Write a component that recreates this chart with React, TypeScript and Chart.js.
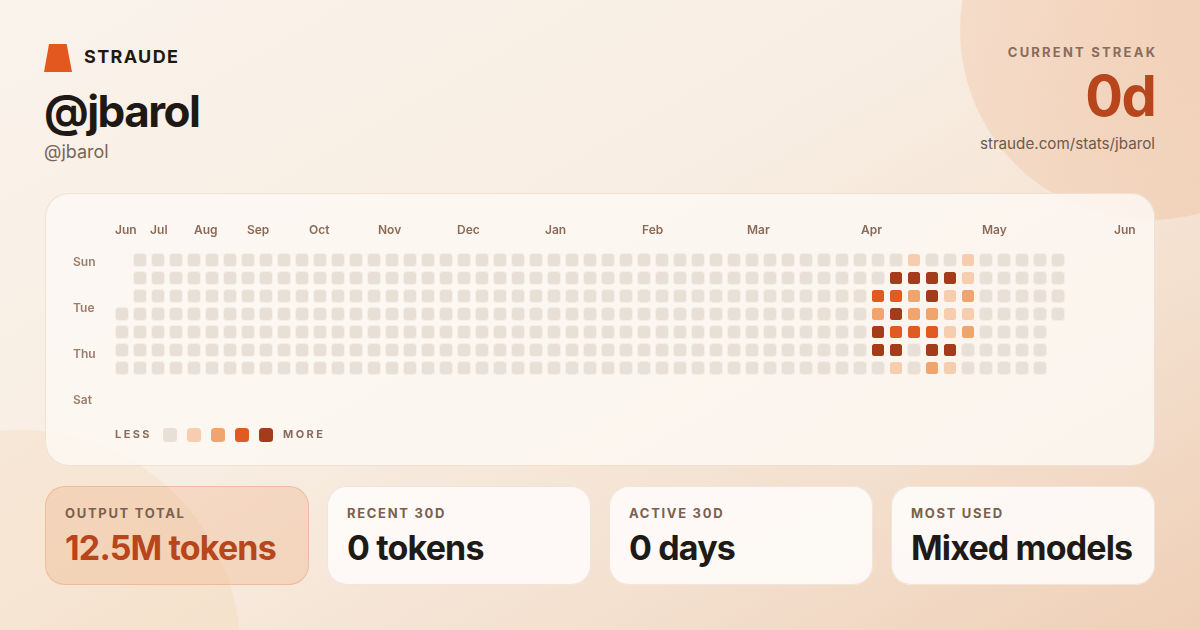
import React, { useEffect, useRef } from "react";
import { Chart, registerables } from "chart.js";

Chart.register(...registerables);

// ---------- data ----------
const weekCount = 53;
const firstWeekStartDay = 3; // first column begins on Wed
const lastWeekEndDay = 3; // last column ends on Wed
const activeWeekStart = 42;
// levels per active week, rows Sun..Sat
const activeWeekLevels = [
  [0, 0, 3, 2, 4, 4, 0],
  [0, 4, 3, 4, 3, 4, 1],
  [1, 4, 2, 2, 3, 0, 0],
  [0, 4, 4, 2, 3, 4, 2],
  [0, 4, 1, 1, 1, 4, 1],
  [1, 1, 2, 1, 2, 0, 0],
];
const monthLabels = ["Jun", "Jul", "Aug", "Sep", "Oct", "Nov", "Dec", "Jan", "Feb", "Mar", "Apr", "May", "Jun"];
const monthTickWeeks = [-0.39, 1.56, 4.0, 6.94, 10.39, 14.22, 18.61, 23.5, 28.89, 34.72, 41.06, 47.78, 55.11];
const dayLabels = ["Sun", "Mon", "Tue", "Wed", "Thu", "Fri", "Sat"];
const dayTickRows = [0, 2, 4, 6];

const statLabels = ["OUTPUT TOTAL", "RECENT 30D", "ACTIVE 30D", "MOST USED"];
const statValues = ["12.5M tokens", "0 tokens", "0 days", "Mixed models"];

// ---------- styles ----------
const levelColors = ["#E8E0D6", "#F6CDAF", "#F0A56E", "#E05A22", "#A43B1A"];
const CANVAS_W = 1110;
const CANVAS_H = 273;
const PAD_LEFT = 28;
const DAY_AXIS_W = 40;
const PAD_RIGHT = 16;
const TOP_AXIS_H = 58;
const PAD_BOTTOM = 56;
const CELL_STEP = 18;
const DAY_LABEL_STEP = 23;

function buildCells() {
  const cells: { x: number; y: [number, number]; level: number }[] = [];
  for (let w = 0; w < weekCount; w++) {
    const start = w === 0 ? firstWeekStartDay : 0;
    const end = w === weekCount - 1 ? lastWeekEndDay : 6;
    for (let d = start; d <= end; d++) {
      const ai = w - activeWeekStart;
      const level = ai >= 0 && ai < activeWeekLevels.length ? activeWeekLevels[ai][d] : 0;
      cells.push({ x: w, y: [d - 0.39, d + 0.39], level });
    }
  }
  return cells;
}

export default function App() {
  const canvasRef = useRef<HTMLCanvasElement>(null);

  useEffect(() => {
    const cells = buildCells();
    const areaH = CANVAS_H - TOP_AXIS_H - PAD_BOTTOM;
    const areaW = CANVAS_W - PAD_LEFT - DAY_AXIS_W - PAD_RIGHT;
    const dayMin = -11.8 / DAY_LABEL_STEP;
    const chart = new Chart(canvasRef.current as HTMLCanvasElement, {
      type: "bar",
      data: {
        datasets: [
          {
            data: cells as any,
            backgroundColor: cells.map((c) => levelColors[c.level]),
            borderColor: cells.map((c) => (c.level === 0 ? "rgba(150,110,80,0.06)" : "rgba(0,0,0,0)")),
            borderWidth: 1,
            borderRadius: 3.5,
            borderSkipped: false,
            barThickness: 14,
            inflateAmount: 0,
            xAxisID: "x",
            yAxisID: "y",
          } as any,
        ],
      },
      options: {
        animation: false,
        responsive: false,
        events: [],
        layout: { padding: { left: PAD_LEFT, right: PAD_RIGHT, top: 0, bottom: PAD_BOTTOM } },
        plugins: { legend: { display: false }, tooltip: { enabled: false } },
        scales: {
          x: {
            type: "linear",
            position: "top",
            min: -0.5,
            max: -0.5 + areaW / CELL_STEP,
            offset: false,
            grid: { display: false, drawTicks: false },
            border: { display: false },
            afterBuildTicks: (s: any) => {
              s.ticks = monthTickWeeks.map((v) => ({ value: v }));
            },
            afterFit: (s: any) => {
              s.height = TOP_AXIS_H;
            },
            ticks: {
              autoSkip: false,
              maxRotation: 0,
              minRotation: 0,
              align: "start",
              padding: 13,
              color: "#8B6B58",
              font: { family: "Inter", size: 12, weight: "600" },
              callback: (_v: any, i: number) => monthLabels[i],
            },
          } as any,
          y: {
            type: "linear",
            axis: "y",
            reverse: true,
            min: -0.5,
            max: -0.5 + areaH / CELL_STEP,
            display: false,
          } as any,
          yDays: {
            type: "linear",
            axis: "y",
            position: "left",
            reverse: true,
            min: dayMin,
            max: dayMin + areaH / DAY_LABEL_STEP,
            grid: { display: false, drawTicks: false },
            border: { display: false },
            afterBuildTicks: (s: any) => {
              s.ticks = dayTickRows.map((v) => ({ value: v }));
            },
            afterFit: (s: any) => {
              s.width = DAY_AXIS_W;
            },
            ticks: {
              autoSkip: false,
              crossAlign: "far",
              padding: 0,
              color: "#9A7E6C",
              font: { family: "Inter", size: 12, weight: "600" },
              callback: (v: any) => dayLabels[Math.round(Number(v))],
            },
          } as any,
        },
      },
    });
    return () => chart.destroy();
  }, []);

  const txt = (extra: React.CSSProperties): React.CSSProperties => ({
    position: "absolute",
    lineHeight: 1,
    whiteSpace: "nowrap",
    margin: 0,
    ...extra,
  });

  return (
    <div
      style={{
        position: "fixed",
        left: 0,
        top: 0,
        width: 1200,
        height: 630,
        overflow: "hidden",
        fontFamily: "Inter, 'Noto Sans', sans-serif",
        background: "linear-gradient(150deg, #FAF3EB 0%, #F8EDE2 45%, #F3DFCD 75%, #EFCFB7 100%)",
      }}
    >
      {/* decorative circles */}
      <div
        style={{
          position: "absolute",
          left: 1150 - 190,
          top: 30 - 190,
          width: 380,
          height: 380,
          borderRadius: "50%",
          background: "radial-gradient(circle at 60% 40%, rgba(235,168,125,0.38), rgba(235,175,135,0.28) 70%, rgba(235,180,140,0.22))",
        }}
      />
      <div
        style={{
          position: "absolute",
          left: 20 - 220,
          top: 650 - 220,
          width: 440,
          height: 440,
          borderRadius: "50%",
          background: "rgba(240,205,160,0.22)",
        }}
      />

      {/* header */}
      <div
        style={{
          position: "absolute",
          left: 44,
          top: 44,
          width: 28,
          height: 28,
          background: "#E2581F",
          clipPath: "polygon(18% 0, 81% 0, 100% 100%, 0 100%)",
        }}
      />
      <div style={txt({ left: 84, top: 48, fontSize: 18, fontWeight: 700, letterSpacing: "0.075em", color: "#1E1915" })}>STRAUDE</div>
      <div style={txt({ left: 44, top: 89, fontSize: 44, fontWeight: 700, letterSpacing: "-0.035em", color: "#1E1915" })}>@jbarol</div>
      <div style={txt({ left: 44, top: 143, fontSize: 18, fontWeight: 400, color: "#7A655A" })}>@jbarol</div>

      <div style={txt({ right: 45, top: 45.5, fontSize: 13, fontWeight: 700, letterSpacing: "0.17em", color: "#8A6C5C", marginRight: "-0.17em" })}>CURRENT STREAK</div>
      <div style={txt({ right: 45, top: 68, fontSize: 56, fontWeight: 700, letterSpacing: "-0.03em", color: "#B8461C" })}>0d</div>
      <div style={txt({ right: 45, top: 136, fontSize: 15.2, fontWeight: 400, color: "#6E5A4E" })}>straude.com/stats/jbarol</div>

      {/* heatmap card */}
      <div
        style={{
          position: "absolute",
          left: 45,
          top: 193,
          width: CANVAS_W,
          height: CANVAS_H,
          borderRadius: 24,
          background: "rgba(253,248,243,0.85)",
          boxShadow: "inset 0 0 0 1px rgba(235,215,198,0.7)",
        }}
      >
        <canvas
          ref={canvasRef}
          width={CANVAS_W}
          height={CANVAS_H}
          style={{ position: "absolute", left: 0, top: 0, width: CANVAS_W, height: CANVAS_H }}
        />
        {/* legend */}
        <div style={txt({ left: 70, top: 236, fontSize: 11, fontWeight: 700, letterSpacing: "0.22em", color: "#8A6C5C" })}>LESS</div>
        {levelColors.map((c, i) => (
          <div
            key={i}
            style={{ position: "absolute", left: 118 + i * 24, top: 235, width: 14, height: 14, borderRadius: 3.5, background: c }}
          />
        ))}
        <div style={txt({ left: 238, top: 236, fontSize: 11, fontWeight: 700, letterSpacing: "0.22em", color: "#8A6C5C" })}>MORE</div>
      </div>

      {/* stat cards */}
      {statLabels.map((label, i) => {
        const first = i === 0;
        return (
          <div
            key={label}
            style={{
              position: "absolute",
              left: 45 + i * 282,
              top: 486,
              width: 264,
              height: 99,
              borderRadius: 20,
              background: first ? "rgba(238,165,118,0.28)" : "rgba(254,251,248,0.92)",
              boxShadow: first ? "inset 0 0 0 1px rgba(236,160,115,0.45)" : "inset 0 0 0 1px rgba(238,220,205,0.7)",
            }}
          >
            <div style={txt({ left: 20, top: 21, fontSize: 13, fontWeight: 700, letterSpacing: "0.13em", color: "#7A6050" })}>{label}</div>
            <div
              style={txt({
                left: 20,
                top: 45,
                fontSize: 34,
                fontWeight: 700,
                letterSpacing: "-0.025em",
                color: first ? "#B8461C" : "#1E1A17",
              })}
            >
              {statValues[i]}
            </div>
          </div>
        );
      })}
    </div>
  );
}
